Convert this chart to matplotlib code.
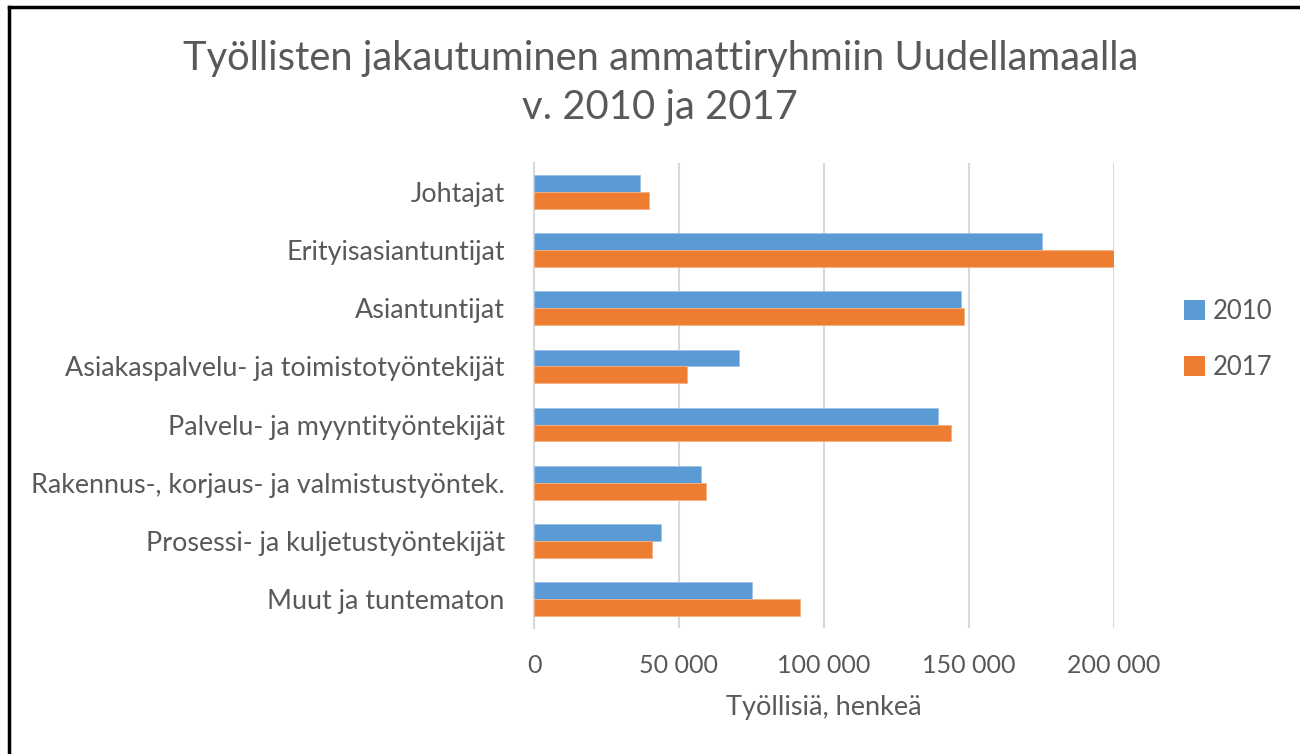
import matplotlib
matplotlib.use('Agg')
import matplotlib.pyplot as plt
from matplotlib.patches import Patch
from matplotlib.lines import Line2D
from matplotlib.ticker import FuncFormatter
import numpy as np

plt.rcParams['font.family'] = ['Lato', 'DejaVu Sans']

categories = ['Johtajat',
              'Erityisasiantuntijat',
              'Asiantuntijat',
              'Asiakaspalvelu- ja toimistotyöntekijät',
              'Palvelu- ja myyntityöntekijät',
              'Rakennus-, korjaus- ja valmistustyöntek.',
              'Prosessi- ja kuljetustyöntekijät',
              'Muut ja tuntematon']
v2010 = [36600, 175300, 147200, 70600, 139300, 57800, 44000, 75100]
v2017 = [39700, 200000, 148300, 52900, 143800, 59500, 40800, 91800]
xticks = [0, 50000, 100000, 150000, 200000]

blue = '#5b9bd5'
orange = '#ed7d31'
grey = '#595959'

fig = plt.figure(figsize=(13, 7.54), dpi=100)
ax = fig.add_axes([534 / 1300, 1 - 628 / 754, (1113.5 - 534) / 1300, (628 - 163) / 754])

y = np.arange(len(categories))
h = 0.29
ax.barh(y - h / 2, v2010, height=h, color=blue, edgecolor='#9dc3e6', linewidth=0.6, zorder=3)
ax.barh(y + h / 2, v2017, height=h, color=orange, edgecolor='#f4b183', linewidth=0.6, zorder=3)

ax.set_ylim(len(categories) - 0.5, -0.5)
ax.set_xlim(0, 200000)
ax.set_xticks(xticks)
ax.xaxis.set_major_formatter(FuncFormatter(lambda v, p: '{:,}'.format(int(v)).replace(',', ' ')))
ax.set_yticks(y)
ax.set_yticklabels(categories)
ax.grid(axis='x', color='#d9d9d9', linewidth=1.5, zorder=0)
for s in ['top', 'right', 'bottom']:
    ax.spines[s].set_visible(False)
ax.spines['left'].set_color('#d9d9d9')
ax.spines['left'].set_linewidth(1.5)
ax.tick_params(axis='x', length=0, pad=18.5, labelsize=18, labelcolor=grey)
ax.tick_params(axis='y', length=0, pad=21, labelsize=19.4, labelcolor=grey)
ax.set_xlabel('Työllisiä, henkeä', fontsize=19.5, color=grey, labelpad=13)

fig.text(0.508, 0.922, 'Työllisten jakautuminen ammattiryhmiin Uudellamaalla',
         ha='center', va='center', fontsize=28.7, color=grey)
fig.text(0.508, 0.858, 'v. 2010 ja 2017', ha='center', va='center', fontsize=28.7, color=grey)

handles = [Patch(facecolor=blue), Patch(facecolor=orange)]
fig.legend(handles, ['2010', '2017'], loc='center left', bbox_to_anchor=(0.893, 0.55),
           frameon=False, fontsize=18.5, labelcolor=grey, handlelength=0.8, handleheight=0.8,
           handletextpad=0.3, labelspacing=1.2)

fig.add_artist(Line2D([9 / 1300, 1], [1 - 7 / 754, 1 - 7 / 754], color='black', linewidth=2.5,
                      transform=fig.transFigure))
fig.add_artist(Line2D([9 / 1300, 9 / 1300], [0, 1 - 7 / 754], color='black', linewidth=2.5,
                      transform=fig.transFigure))

fig.savefig('out.png', dpi=100)
